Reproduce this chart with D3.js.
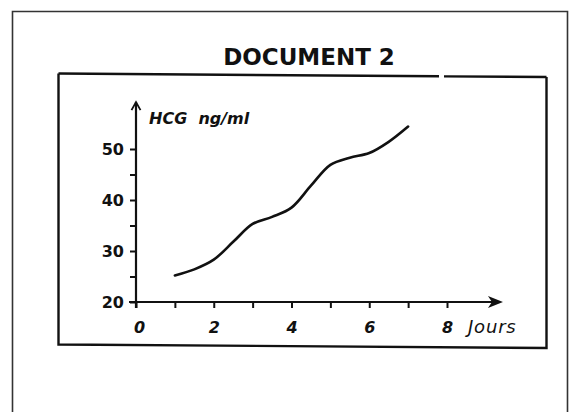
<!DOCTYPE html>
<html>
<head>
<meta charset="utf-8">
<script src="https://cdn.jsdelivr.net/npm/d3@7/dist/d3.min.js"></script>
<style>
  html, body { margin: 0; padding: 0; background: #fff; }
  svg { display: block; }
</style>
</head>
<body>
<svg id="chart" width="569" height="412"></svg>
<script>
// ---- data ----
const title = "DOCUMENT 2";
const yAxisLabel = "HCG ng/ml";
const xAxisLabel = "Jours";
const days = [1, 1.5, 2, 2.5, 3, 3.5, 4, 4.5, 5, 5.5, 6, 6.5, 7];
const hcg  = [25.2, 26.4, 28.3, 31.8, 35.3, 36.7, 38.5, 42.8, 46.9, 48.3, 49.2, 51.4, 54.4];
const xTicks = [0, 1, 2, 3, 4, 5, 6, 7, 8];
const xTickLabels = [0, 2, 4, 6, 8];
const yTicks = [20, 25, 30, 35, 40, 45, 50];
const yTickLabels = [20, 30, 40, 50];

// ---- layout ----
const svg = d3.select("#chart");
const ink = "#111";
const x = d3.scaleLinear().domain([0, 8]).range([136, 447]);
const y = d3.scaleLinear().domain([20, 50]).range([302, 149]);

// outer frame (open at bottom)
svg.append("path")
  .attr("d", "M12.5,412 L12.5,11.5 L567.5,11.5 L567.5,412")
  .attr("fill", "none").attr("stroke", "#333").attr("stroke-width", 1.6);

// inner box (slightly tilted, as in the scan)
const box = svg.append("g").attr("fill", "none").attr("stroke", ink).attr("stroke-width", 2.4);
box.append("path").attr("d", "M58.5,73.5 L439,76.3");
box.append("path").attr("d", "M444,76.4 L546.5,77");
box.append("path").attr("d", "M546.5,77 L546.5,348 L58.5,344.5 L58.5,73.5");

// title
svg.append("text")
  .attr("x", 309).attr("y", 65)
  .attr("text-anchor", "middle")
  .attr("font-family", "DejaVu Sans")
  .attr("font-weight", "bold")
  .attr("font-size", 23)
  .attr("fill", ink)
  .text(title);

// x axis
const xAxis = d3.axisBottom(x)
  .tickValues(xTicks)
  .tickSize(6)
  .tickFormat(d => xTickLabels.includes(d) ? d : "");
const gx = svg.append("g").attr("transform", `translate(0,${y(20)})`).call(xAxis);
gx.select(".domain").remove();
gx.selectAll(".tick line").attr("stroke", ink).attr("stroke-width", 2).attr("y1", -1);
gx.selectAll(".tick text")
  .attr("y", 20).attr("dx", d => d === 0 ? 3 : 0)
  .style("font-family", "DejaVu Sans").style("font-style", "italic").style("font-weight", "bold")
  .style("font-size", "16px").attr("fill", ink);

// y axis
const yAxis = d3.axisLeft(y)
  .tickValues(yTicks)
  .tickSize(6)
  .tickFormat(d => yTickLabels.includes(d) ? d : "");
const gy = svg.append("g").attr("transform", `translate(${x(0)},0)`).call(yAxis);
gy.select(".domain").remove();
gy.selectAll(".tick line").attr("stroke", ink).attr("stroke-width", 2);
gy.selectAll(".tick text")
  .attr("x", -12).attr("dy", "0.36em")
  .style("font-family", "DejaVu Sans").style("font-weight", "bold")
  .style("font-size", "16px").attr("fill", ink);

// axis lines with arrows
const xEnd = x(9.44), yTop = y(59.2);
svg.append("line")
  .attr("x1", x(0) - 7).attr("x2", xEnd - 4)
  .attr("y1", y(20)).attr("y2", y(20))
  .attr("stroke", ink).attr("stroke-width", 2.2);
svg.append("path")
  .attr("d", `M${xEnd},${y(20)} L${xEnd - 15},${y(20) - 6} L${xEnd - 11},${y(20)} L${xEnd - 15},${y(20) + 6} Z`)
  .attr("fill", ink);
svg.append("line")
  .attr("x1", x(0)).attr("x2", x(0))
  .attr("y1", y(20) + 6).attr("y2", yTop)
  .attr("stroke", ink).attr("stroke-width", 2.2);
svg.append("path")
  .attr("d", `M${x(0) - 4.5},${yTop + 8} L${x(0)},${yTop} L${x(0) + 4.5},${yTop + 8}`)
  .attr("fill", "none").attr("stroke", ink).attr("stroke-width", 1.8);

// axis labels
svg.append("text")
  .attr("x", x(0) + 13).attr("y", 124)
  .attr("font-family", "DejaVu Sans").attr("font-style", "italic").attr("font-weight", "bold")
  .attr("font-size", 16).attr("fill", ink)
  .attr("xml:space", "preserve")
  .text(yAxisLabel.replace(" ", "  "));
svg.append("text")
  .attr("x", x(8) + 21).attr("y", 333)
  .attr("font-family", "DejaVu Sans").attr("font-style", "italic")
  .attr("font-size", 18).attr("letter-spacing", 0.8).attr("fill", ink)
  .text(xAxisLabel);

// curve
const line = d3.line()
  .x((d, i) => x(days[i]))
  .y(d => y(d))
  .curve(d3.curveCatmullRom.alpha(0.5));
svg.append("path")
  .datum(hcg)
  .attr("d", line)
  .attr("fill", "none")
  .attr("stroke", ink)
  .attr("stroke-width", 2.6)
  .attr("stroke-linecap", "round");
</script>
</body>
</html>
